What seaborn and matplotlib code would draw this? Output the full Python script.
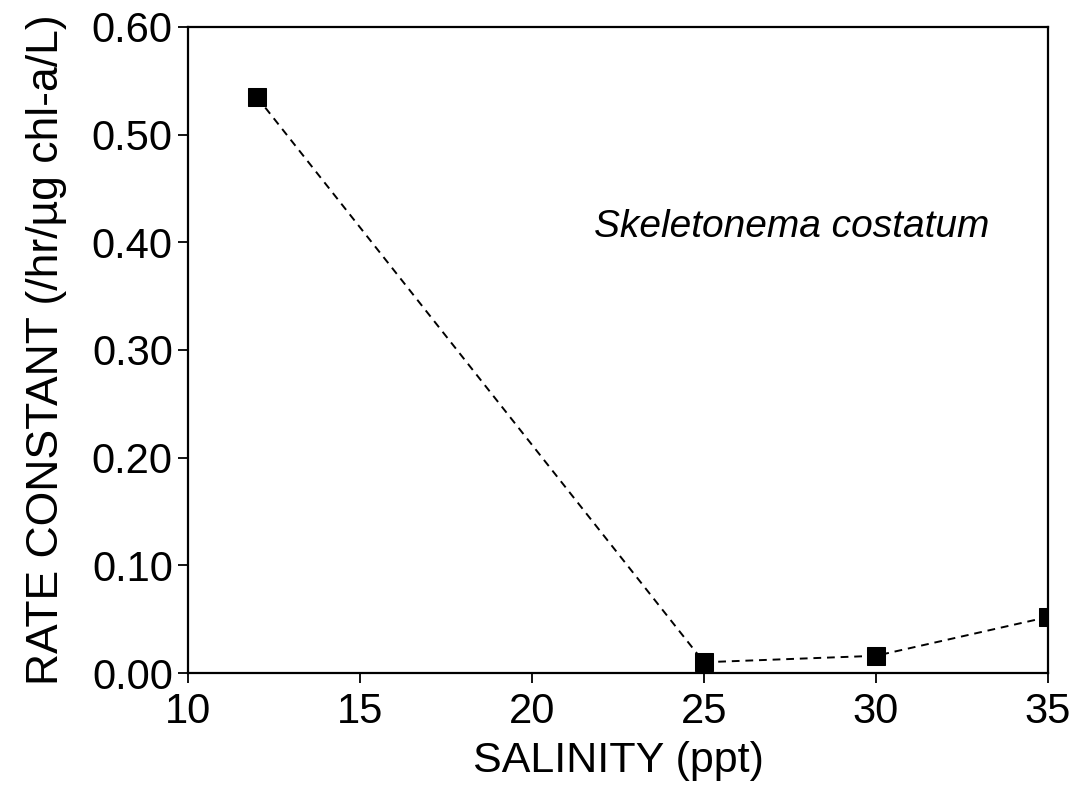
import matplotlib
matplotlib.use("Agg")
import matplotlib.pyplot as plt
import seaborn as sns
import pandas as pd

# Rate constant versus salinity for Skeletonema costatum
salinity = [12, 25, 30, 35]
rate_constant = [0.535, 0.010, 0.016, 0.052]
x_ticks = [10, 15, 20, 25, 30, 35]
y_ticks = [0.00, 0.10, 0.20, 0.30, 0.40, 0.50, 0.60]
y_tick_labels = ["0.00", "0.10", "0.20", "0.30", "0.40", "0.50", "0.60"]

df = pd.DataFrame({"salinity": salinity, "rate": rate_constant})

sns.set_style("ticks")
plt.rcParams["font.family"] = ["Liberation Sans", "DejaVu Sans"]
plt.rcParams["text.color"] = "black"
plt.rcParams["axes.labelcolor"] = "black"

fig = plt.figure(figsize=(10.77, 7.93), dpi=100)
ax = fig.add_axes([0.1746, 0.1513, 0.7984, 0.8147])

sns.lineplot(data=df, x="salinity", y="rate", ax=ax, color="black",
             linewidth=1.4, linestyle=(0, (4, 3)), marker="s",
             markersize=13, markerfacecolor="black",
             markeredgecolor="black")

ax.set_xlim(10, 35)
ax.set_ylim(0, 0.60)
ax.set_xticks(x_ticks)
ax.set_xticklabels([str(t) for t in x_ticks])
ax.set_yticks(y_ticks)
ax.set_yticklabels(y_tick_labels)

for s in ax.spines.values():
    s.set_visible(True)
    s.set_linewidth(1.6)
    s.set_color("black")

ax.tick_params(axis="x", direction="out", length=7, width=1.3,
               labelsize=30, colors="black", pad=7)
ax.tick_params(axis="y", direction="out", length=7, width=1.3,
               labelsize=30, colors="black", pad=4)

ax.set_xlabel("SALINITY (ppt)", fontsize=31, labelpad=6, color="black")
ax.set_ylabel("RATE CONSTANT (/hr/µg chl-a/L)", fontsize=32, labelpad=18,
              color="black")

ax.text(21.8, 0.405, "Skeletonema costatum", fontsize=28, style="italic",
        ha="left", va="baseline", color="black")

fig.savefig("out.png", dpi=100)
